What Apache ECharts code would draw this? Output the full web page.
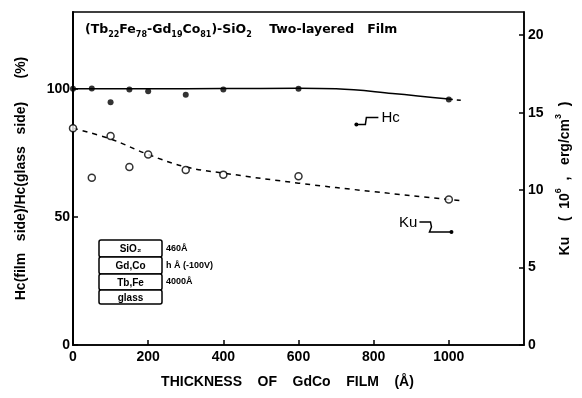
<!DOCTYPE html>
<html>
<head>
<meta charset="utf-8">
<script src="https://cdn.jsdelivr.net/npm/echarts@6/dist/echarts.min.js"></script>
<style>html,body{margin:0;padding:0;background:#fff}#c{width:582px;height:398px}</style>
</head>
<body>
<div id="c"></div>
<script>
// ---- data ----
const xTicks = [0, 200, 400, 600, 800, 1000];
const hcThickness = [0, 50, 100, 150, 200, 300, 400, 600, 1000];
const hcRatio = [100, 100.1, 94.8, 99.7, 99.1, 97.7, 99.7, 100, 95.8];
const kuThickness = [0, 50, 100, 150, 200, 300, 400, 600, 1000];
const kuValues = [14.0, 10.8, 13.5, 11.5, 12.3, 11.3, 11.0, 10.9, 9.4];
const hcFitX = [0, 200, 400, 600, 700, 850, 1000];
const hcFitY = [100, 100, 100.1, 100.2, 100, 98.2, 96];
const hcExtX = [1000, 1040];
const hcExtY = [96, 95.4];
const kuFitX = [0, 100, 200, 300, 400, 600, 800, 1000, 1040];
const kuFitY = [14.0, 13.3, 12.3, 11.5, 11.1, 10.45, 9.9, 9.4, 9.3];
const leftTicks = [0, 50, 100];
const rightTicks = [0, 5, 10, 15, 20];
const layers = ['SiO\u2082', 'Gd,Co', 'Tb,Fe', 'glass'];
const layerNotes = ['460\u00c5', 'h \u00c5 (-100V)', '4000\u00c5', ''];

const pairs = (xs, ys) => xs.map((x, i) => [x, ys[i]]);
const FONT = 'Liberation Sans';
const TFONT = 'DejaVu Sans';

const chart = echarts.init(document.getElementById('c'), null, {renderer: 'canvas'});
const option = {
  backgroundColor: '#fff',
  animation: false,
  grid: {left: 73, right: 58, top: 12, bottom: 53, show: true, borderColor: '#000', borderWidth: 1.5, containLabel: false},
  xAxis: {
    type: 'value', min: 0, max: 1200, interval: 200,
    name: 'THICKNESS    OF    GdCo    FILM    (\u00c5)', nameLocation: 'middle', nameGap: 30,
    nameTextStyle: {fontFamily: FONT, fontSize: 14, fontWeight: 'bold', color: '#000', padding: [0, 22, 0, 0]},
    axisLine: {lineStyle: {color: '#000', width: 1.5}},
    axisTick: {inside: true, length: 5, lineStyle: {color: '#000', width: 1.5}},
    axisLabel: {fontFamily: FONT, fontSize: 14, fontWeight: 'bold', color: '#000', margin: 5, showMaxLabel: false,
      formatter: v => xTicks.includes(v) ? String(v) : ''},
    splitLine: {show: false}
  },
  yAxis: [{
    type: 'value', min: 0, max: 130, interval: 50, position: 'left',
    name: 'Hc(film   side)/Hc(glass   side)      (%)', nameLocation: 'middle', nameGap: 45, nameRotate: 90,
    nameTextStyle: {fontFamily: FONT, fontSize: 14, fontWeight: 'bold', color: '#000'},
    axisLine: {show: true, lineStyle: {color: '#000', width: 2}},
    axisTick: {show: true, inside: true, length: 5, lineStyle: {color: '#000', width: 1.5}},
    axisLabel: {fontFamily: FONT, fontSize: 14, fontWeight: 'bold', color: '#000', margin: 3, showMaxLabel: false,
      formatter: v => leftTicks.includes(v) ? String(v) : ''},
    splitLine: {show: false}
  }, {
    type: 'value', min: 0, max: 21.5, interval: 5, position: 'right',
    name: '{n|Ku    (  10}{s|6}{n|  ,   erg/cm}{s|3}{n|  )}', nameLocation: 'middle', nameGap: 29, nameRotate: 90,
    nameTextStyle: {fontFamily: FONT, fontSize: 14, fontWeight: 'bold', color: '#000',
      rich: {n: {fontFamily: FONT, fontSize: 14, fontWeight: 'bold', lineHeight: 18, verticalAlign: 'bottom'},
             s: {fontFamily: FONT, fontSize: 9, fontWeight: 'bold', lineHeight: 18, verticalAlign: 'top'}}},
    axisLine: {show: true, lineStyle: {color: '#000', width: 1.5}},
    axisTick: {show: true, inside: true, length: 5, lineStyle: {color: '#000', width: 1.5}},
    axisLabel: {fontFamily: FONT, fontSize: 14, fontWeight: 'bold', color: '#000', margin: 4, showMaxLabel: false,
      formatter: v => rightTicks.includes(v) ? String(v) : ''},
    splitLine: {show: false}
  }],
  series: [
    {name: 'Hc fit', type: 'line', yAxisIndex: 0, data: pairs(hcFitX, hcFitY), smooth: 0.4, showSymbol: false,
      lineStyle: {color: '#000', width: 1.5}, z: 2},
    {name: 'Hc fit ext', type: 'line', yAxisIndex: 0, data: pairs(hcExtX, hcExtY), showSymbol: false,
      lineStyle: {color: '#000', width: 1.5, type: [4, 4]}, z: 2},
    {name: 'Ku fit', type: 'line', yAxisIndex: 1, data: pairs(kuFitX, kuFitY), smooth: 0.4, showSymbol: false,
      lineStyle: {color: '#000', width: 1.5, type: [5, 5]}, z: 2},
    {name: 'Hc', type: 'scatter', yAxisIndex: 0, data: pairs(hcThickness, hcRatio), symbol: 'circle', symbolSize: 6,
      itemStyle: {color: '#000'}, z: 3},
    {name: 'Ku', type: 'scatter', yAxisIndex: 1, data: pairs(kuThickness, kuValues), symbol: 'circle', symbolSize: 7,
      itemStyle: {color: '#fff', borderColor: '#000', borderWidth: 1.5}, z: 3}
  ]
};
chart.setOption(option);

// ---- annotations ----
const px = (x, y, idx) => chart.convertToPixel({xAxisIndex: 0, yAxisIndex: idx}, [x, y]);
const hcA = px(754, 86.1, 0);
const kuA = px(1007, 7.3, 1);
const g = [];
// title
g.push({type: 'text', left: 85, top: 23, style: {
  text: '{n|(Tb}{s|22}{n|Fe}{s|78}{n|-Gd}{s|19}{n|Co}{s|81}{n|)-SiO}{s|2}{n|    Two-layered   Film}',
  rich: {n: {fontFamily: TFONT, fontSize: 12.5, fontWeight: 'bold', fill: '#000', lineHeight: 16, verticalAlign: 'top'},
         s: {fontFamily: TFONT, fontSize: 8, fontWeight: 'bold', fill: '#000', lineHeight: 16, verticalAlign: 'bottom'}}}});
// Hc note
g.push({type: 'circle', shape: {cx: hcA[0], cy: hcA[1], r: 2}, style: {fill: '#000'}});
g.push({type: 'polyline', shape: {points: [[hcA[0], hcA[1]], [hcA[0] + 9, hcA[1]], [hcA[0] + 10, hcA[1] - 7], [hcA[0] + 22, hcA[1] - 7]]},
  style: {stroke: '#000', lineWidth: 1.5, fill: null}});
g.push({type: 'text', x: hcA[0] + 25, y: hcA[1] - 7, style: {text: 'Hc', fontFamily: FONT, fontSize: 15, fill: '#000',
  verticalAlign: 'middle', align: 'left'}});
// Ku note
const kx = kuA[0], ky = kuA[1];
g.push({type: 'circle', shape: {cx: kx, cy: ky, r: 2}, style: {fill: '#000'}});
g.push({type: 'polyline', shape: {points: [[kx, ky], [kx - 22, ky], [kx - 20, ky - 5], [kx - 21, ky - 10], [kx - 32, ky - 10]]},
  style: {stroke: '#000', lineWidth: 1.5, fill: null}});
g.push({type: 'text', x: kx - 34, y: ky - 9, style: {text: 'Ku', fontFamily: FONT, fontSize: 15, fill: '#000',
  verticalAlign: 'middle', align: 'right'}});
// layer stack box
const bx = 99, bw = 63, rows = [[240, 17], [257, 17], [274, 16], [290, 14]];
rows.forEach((r, i) => {
  g.push({type: 'rect', shape: {x: bx, y: r[0], width: bw, height: r[1], r: 2}, style: {fill: '#fff', stroke: '#000', lineWidth: 1.5}});
  g.push({type: 'text', x: bx + bw / 2, y: r[0] + r[1] / 2 + 1, style: {text: layers[i], fontFamily: FONT, fontSize: 10,
    fontWeight: 'bold', fill: '#000', align: 'center', verticalAlign: 'middle'}});
  if (layerNotes[i]) g.push({type: 'text', x: bx + bw + 4, y: r[0] + r[1] / 2, style: {text: layerNotes[i], fontFamily: FONT,
    fontSize: 9, fontWeight: 'bold', fill: '#000', align: 'left', verticalAlign: 'middle'}});
});
chart.setOption({graphic: g});
</script>
</body>
</html>
